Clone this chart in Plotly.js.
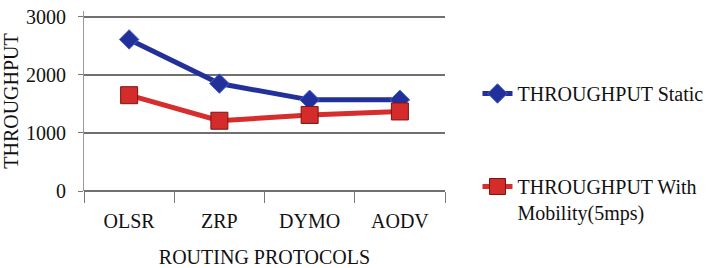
<!DOCTYPE html>
<html>
<head>
<meta charset="utf-8">
<script src="https://cdn.plot.ly/plotly-3.0.1.min.js"></script>
<style>
html,body{margin:0;padding:0;background:#fff;}
#chart{width:720px;height:268px;}
</style>
</head>
<body>
<div id="chart"></div>
<script>
var categories = ["OLSR", "ZRP", "DYMO", "AODV"];
var staticValues = [2610, 1850, 1570, 1570];
var mobilityValues = [1650, 1210, 1310, 1370];
var seriesNames = ["THROUGHPUT Static", "THROUGHPUT With<br>Mobility(5mps)"];
var yTicks = [0, 1000, 2000, 3000];

var font = "Liberation Serif";

var traces = [
  {
    x: categories, y: staticValues, name: seriesNames[0],
    type: "scatter", mode: "lines+markers", legendgroup: "a",
    line: {color: "#22309a", width: 5},
    marker: {symbol: "diamond", size: 15, color: "#22309a", line: {color: "#4a5fc8", width: 1}}
  },
  {
    x: categories, y: mobilityValues, name: seriesNames[1],
    type: "scatter", mode: "lines+markers", legendgroup: "b",
    line: {color: "#d62d2d", width: 5},
    marker: {symbol: "square", size: 17, color: "#d42b2b", line: {color: "#7a1515", width: 1}}
  }
];

var layout = {
  width: 720, height: 268,
  margin: {l: 84, r: 273, t: 11, b: 77, pad: 0},
  paper_bgcolor: "#fff", plot_bgcolor: "#fff",
  font: {family: font, size: 20, color: "#111"},
  showlegend: true,
  legend: {
    x: 1.09, xanchor: "left", y: 0.65, yanchor: "top",
    font: {family: font, size: 20, color: "#111"},
    tracegroupgap: 64, valign: "top", bgcolor: "rgba(0,0,0,0)"
  },
  xaxis: {
    type: "category", range: [-0.5, 3.5],
    showgrid: false, zeroline: false,
    showline: false,
    ticks: "outside", tickson: "boundaries", ticklen: 11, tickcolor: "#777", tickwidth: 1,
    ticklabelstandoff: 16,
    tickfont: {family: font, size: 20, color: "#111"},
    title: {text: "ROUTING PROTOCOLS", font: {family: font, size: 20, color: "#111"}, standoff: 24}
  },
  yaxis: {
    range: [0, 3100], tickvals: yTicks, ticktext: yTicks.map(String),
    showgrid: true, gridcolor: "#707070", gridwidth: 1.5,
    zeroline: true, zerolinecolor: "#707070", zerolinewidth: 1.5,
    showline: true, linecolor: "#999", linewidth: 1,
    ticks: "outside", ticklen: 5, tickcolor: "#777",
    ticklabelstandoff: 8,
    tickfont: {family: font, size: 20, color: "#111"},
    title: {text: "THROUGHPUT", font: {family: font, size: 20, color: "#111"}, standoff: 8}
  }
};

Plotly.newPlot("chart", traces, layout, {displayModeBar: false, staticPlot: true});
</script>
</body>
</html>
